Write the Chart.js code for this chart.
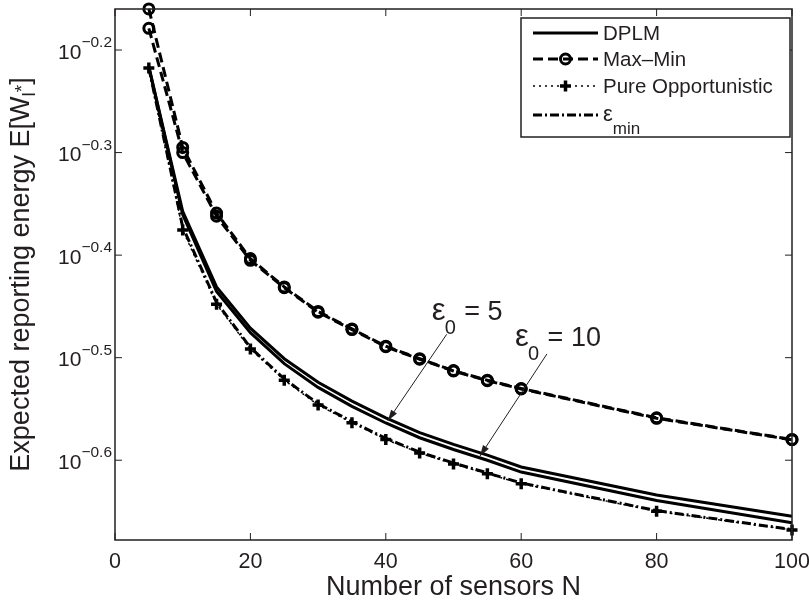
<!DOCTYPE html>
<html lang="en">
<head>
<meta charset="UTF-8">
<title>Expected reporting energy vs number of sensors</title>
<style>
  html, body { margin: 0; padding: 0; background: #fff; }
</style>
</head>
<body>
<canvas id="myChart" width="809" height="602"></canvas>

<script src="https://cdn.jsdelivr.net/npm/chart.js"></script>
<script>
// values (y axis is logarithmic)
const sensors = [5, 10, 15, 20, 25, 30, 35, 40, 45, 50, 55, 60, 80, 100]

const dplmEps5 = [0.6075, 0.4393, 0.3707, 0.3379, 0.3155, 0.2992, 0.2868, 0.2763, 0.2673, 0.2603, 0.2541, 0.2474, 0.2323, 0.2215]
const dplmEps10 = [0.6075, 0.4360, 0.3670, 0.3345, 0.3120, 0.2958, 0.2835, 0.2731, 0.2642, 0.2573, 0.2512, 0.2446, 0.2295, 0.2183]
const maxMinEps5 = [0.6920, 0.5070, 0.4375, 0.3950, 0.3707, 0.3508, 0.3373, 0.3245, 0.3155, 0.3072, 0.3006, 0.2951, 0.2763, 0.2632]
const maxMinEps10 = [0.6624, 0.5012, 0.4345, 0.3935, 0.3700, 0.3502, 0.3368, 0.3241, 0.3151, 0.3069, 0.3003, 0.2948, 0.2760, 0.2630]
const pureOpp = [0.6061, 0.4211, 0.3565, 0.3224, 0.3006, 0.2844, 0.2732, 0.2632, 0.2553, 0.2491, 0.2437, 0.2383, 0.2240, 0.2148]
const epsMin = [0.6061, 0.4240, 0.3580, 0.3235, 0.3015, 0.2852, 0.2739, 0.2638, 0.2558, 0.2496, 0.2441, 0.2387, 0.2243, 0.2150]

const xTicks = [0, 20, 40, 60, 80, 100]
const yTickExp = [-0.6, -0.5, -0.4, -0.3, -0.2]
const yMin = Math.pow(10, -0.671)
const yMax = Math.pow(10, -0.16)

// arrows "eps_0 = 5" and "eps_0 = 10", in data coordinates
const notes = [
    { value: '5', textN: 46.8, textV: 0.3445, tailN: 49.0, tailV: 0.3333, tipN: 40.3, tipV: 0.2745 },
    { value: '10', textN: 59.1, textV: 0.3245, tailN: 63.8, tailV: 0.3189, tipN: 53.9, tipV: 0.2535 }
]

const FONT = '"Liberation Sans", Arial, Helvetica, sans-serif'
const INK = '#231f20'

const styles = {
    dplm: { borderWidth: 3, borderDash: [], pointRadius: 0 },
    maxmin: { borderWidth: 3, borderDash: [10, 5], pointStyle: 'circle', pointRadius: 5, pointBorderWidth: 3 },
    pure: { borderWidth: 1.5, borderDash: [2, 4], pointStyle: 'cross', pointRadius: 5.5, pointBorderWidth: 3.5 },
    emin: { borderWidth: 3, borderDash: [9, 3, 2, 3], pointRadius: 0 }
}

function series(label, values, style) {
    return Object.assign({
        label: label,
        data: sensors.map((n, i) => ({ x: n, y: values[i] })),
        borderColor: '#000',
        backgroundColor: 'rgba(0,0,0,0)',
        pointBorderColor: '#000',
        pointBackgroundColor: 'rgba(0,0,0,0)',
        tension: 0,
        clip: false
    }, style)
}

// draws "10" with a raised exponent, right aligned at xr
function drawPower(ctx, xr, py, exp) {
    const sup = '\u2212' + Math.abs(exp).toFixed(1)
    ctx.font = '15.5px ' + FONT
    const wSup = ctx.measureText(sup).width
    ctx.font = '21px ' + FONT
    const wBase = ctx.measureText('10').width
    ctx.textAlign = 'left'
    ctx.textBaseline = 'alphabetic'
    ctx.fillText('10', xr - wSup - wBase, py + 8.5)
    ctx.font = '15.5px ' + FONT
    ctx.fillText(sup, xr - wSup, py - 3)
}

function drawMarker(ctx, style, cx, cy) {
    ctx.save()
    ctx.setLineDash([])
    ctx.lineWidth = style.pointBorderWidth
    ctx.beginPath()
    if (style.pointStyle === 'circle') {
        ctx.arc(cx, cy, style.pointRadius, 0, Math.PI * 2)
    } else {
        ctx.moveTo(cx - style.pointRadius, cy); ctx.lineTo(cx + style.pointRadius, cy)
        ctx.moveTo(cx, cy - style.pointRadius); ctx.lineTo(cx, cy + style.pointRadius)
    }
    ctx.stroke()
    ctx.restore()
}

const figurePlugin = {
    id: 'figure',
    afterDraw(chart) {
        const ctx = chart.ctx
        const a = chart.chartArea
        const xs = chart.scales.x
        const ys = chart.scales.y
        ctx.save()
        ctx.strokeStyle = INK
        ctx.fillStyle = INK

        // box + inward ticks
        ctx.lineWidth = 1.5
        ctx.setLineDash([])
        ctx.strokeRect(a.left, a.top, a.right - a.left, a.bottom - a.top)
        ctx.lineWidth = 1
        xTicks.forEach(t => {
            const px = xs.getPixelForValue(t)
            ctx.beginPath()
            ctx.moveTo(px, a.bottom); ctx.lineTo(px, a.bottom - 7)
            ctx.moveTo(px, a.top); ctx.lineTo(px, a.top + 7)
            ctx.stroke()
            ctx.font = '21.5px ' + FONT
            ctx.textAlign = 'center'
            ctx.textBaseline = 'alphabetic'
            ctx.fillText(String(t), px, a.bottom + 28)
        })
        yTickExp.forEach(e => {
            const py = ys.getPixelForValue(Math.pow(10, e))
            ctx.beginPath()
            ctx.moveTo(a.left, py); ctx.lineTo(a.left + 7, py)
            ctx.moveTo(a.right, py); ctx.lineTo(a.right - 7, py)
            ctx.stroke()
            drawPower(ctx, a.left - 3, py, e)
        })

        // axis titles
        ctx.font = '27px ' + FONT
        ctx.textAlign = 'center'
        ctx.textBaseline = 'alphabetic'
        ctx.fillText('Number of sensors N', (a.left + a.right) / 2, 595)

        ctx.save()
        ctx.translate(29, (a.top + a.bottom) / 2)
        ctx.rotate(-Math.PI / 2)
        const main = 'Expected reporting energy E[W'
        ctx.font = '27px ' + FONT
        const w1 = ctx.measureText(main).width
        ctx.font = '19px ' + FONT
        const w2 = ctx.measureText('l').width
        const w3 = ctx.measureText('*').width
        ctx.font = '27px ' + FONT
        const w4 = ctx.measureText(']').width
        let cx = -(w1 + w2 + w3 + w4) / 2
        ctx.textAlign = 'left'
        ctx.fillText(main, cx, 0); cx += w1
        ctx.font = '19px ' + FONT
        ctx.fillText('l', cx, 6); cx += w2
        ctx.fillText('*', cx, -1); cx += w3
        ctx.font = '27px ' + FONT
        ctx.fillText(']', cx, 0)
        ctx.restore()

        // legend box
        const lx = 521, ly = 18, lw = 269, lh = 119
        ctx.fillStyle = '#fff'
        ctx.fillRect(lx, ly, lw, lh)
        ctx.fillStyle = INK
        ctx.lineWidth = 1.5
        ctx.strokeRect(lx, ly, lw, lh)
        const rows = [
            { label: 'DPLM', style: styles.dplm, y: 33 },
            { label: 'Max\u2013Min', style: styles.maxmin, y: 59 },
            { label: 'Pure Opportunistic', style: styles.pure, y: 86 },
            { label: '\u03b5', sub: 'min', style: styles.emin, y: 115 }
        ]
        rows.forEach(r => {
            ctx.save()
            ctx.strokeStyle = '#000'
            ctx.lineWidth = r.style.borderWidth
            ctx.setLineDash(r.style.borderDash)
            ctx.beginPath()
            ctx.moveTo(533, r.y); ctx.lineTo(598, r.y)
            ctx.stroke()
            if (r.style.pointRadius) drawMarker(ctx, r.style, 565.5, r.y)
            ctx.restore()
            ctx.textAlign = 'left'
            ctx.textBaseline = 'alphabetic'
            if (r.sub) {
                ctx.font = '22px ' + FONT
                ctx.fillText(r.label, 603, r.y + 6)
                const we = ctx.measureText(r.label).width
                ctx.font = '17px ' + FONT
                ctx.fillText(r.sub, 603 + we, r.y + 19)
            } else {
                ctx.font = '20.5px ' + FONT
                ctx.fillText(r.label, 603, r.y + 7)
            }
        })

        // eps_0 annotations with arrows
        notes.forEach(n => {
            const tx = xs.getPixelForValue(n.tailN), ty = ys.getPixelForValue(n.tailV)
            const hx = xs.getPixelForValue(n.tipN), hy = ys.getPixelForValue(n.tipV)
            ctx.lineWidth = 1
            ctx.beginPath()
            ctx.moveTo(tx, ty); ctx.lineTo(hx, hy)
            ctx.stroke()
            const ang = Math.atan2(hy - ty, hx - tx)
            ctx.beginPath()
            ctx.moveTo(hx, hy)
            ctx.lineTo(hx - 11 * Math.cos(ang) + 3.5 * Math.sin(ang), hy - 11 * Math.sin(ang) - 3.5 * Math.cos(ang))
            ctx.lineTo(hx - 11 * Math.cos(ang) - 3.5 * Math.sin(ang), hy - 11 * Math.sin(ang) + 3.5 * Math.cos(ang))
            ctx.closePath()
            ctx.fill()

            const px = xs.getPixelForValue(n.textN), py = ys.getPixelForValue(n.textV)
            ctx.textAlign = 'left'
            ctx.font = '31px ' + FONT
            ctx.fillText('\u03b5', px, py)
            ctx.font = '20px ' + FONT
            ctx.fillText('0', px + 13, py + 14)
            ctx.font = '27px ' + FONT
            ctx.fillText(' = ' + n.value, px + 25, py)
        })
        ctx.restore()
    }
}

const chart = new Chart(document.getElementById('myChart'), {
    type: 'line',
    data: {
        datasets: [
            series('DPLM', dplmEps5, styles.dplm),
            series('DPLM', dplmEps10, styles.dplm),
            series('Max\u2013Min', maxMinEps5, styles.maxmin),
            series('Max\u2013Min', maxMinEps10, styles.maxmin),
            series('Pure Opportunistic', pureOpp, styles.pure),
            series('\u03b5min', epsMin, styles.emin)
        ]
    },
    options: {
        responsive: false,
        animation: false,
        devicePixelRatio: 1,
        layout: { padding: { left: 115, right: 17, top: 7, bottom: 62 } },
        plugins: { legend: { display: false }, tooltip: { enabled: false } },
        scales: {
            x: { type: 'linear', min: 0, max: 100, display: false },
            y: { type: 'logarithmic', min: yMin, max: yMax, display: false }
        }
    },
    plugins: [figurePlugin]
})
</script>
</body>
</html>
